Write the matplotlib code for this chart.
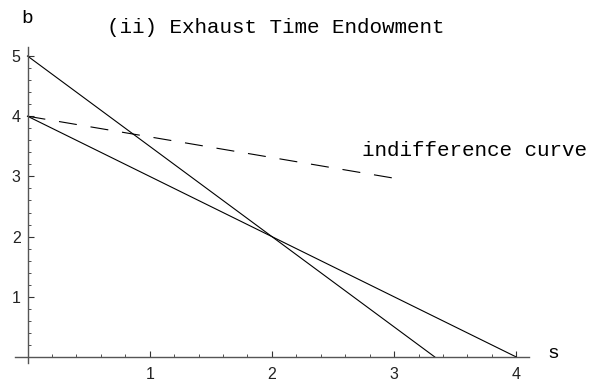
import matplotlib
matplotlib.use("Agg")
import matplotlib.pyplot as plt
from matplotlib.ticker import FixedLocator

plt.rcParams["lines.scale_dashes"] = False

# budget line with 5 units of b, crossing s at 10/3
steep_s = [0, 10 / 3]
steep_b = [5, 0]
# budget line with 4 units of b, crossing s at 4
flat_s = [0, 4]
flat_b = [4, 0]
# indifference curve (dashed)
indiff_s = [0, 3]
indiff_b = [4, 2.97]

x_ticks = [1, 2, 3, 4]
y_ticks = [1, 2, 3, 4, 5]
x_minor = [i / 5 for i in range(1, 21) if i % 5]
y_minor = [i / 5 for i in range(1, 26) if i % 5]

MONO = "Liberation Mono"
SANS = "Liberation Sans"


def main() -> None:
    fig = plt.figure(figsize=(5.92, 3.84), dpi=100)
    ax = fig.add_axes([0, 0, 1, 1])

    # pixel mapping: origin at (27.5, 357), 122.2 px per s unit, 60.2 px per b unit
    ax.set_xlim(-27.5 / 122.2, (592 - 27.5) / 122.2)
    ax.set_ylim((357 - 384) / 60.2, 357 / 60.2)

    ax.plot(steep_s, steep_b, color="black", lw=0.8)
    ax.plot(flat_s, flat_b, color="black", lw=0.8)
    ax.plot(indiff_s, indiff_b, color="black", lw=0.8, dashes=(13, 10))

    for side in ("top", "right"):
        ax.spines[side].set_visible(False)
    ax.spines["left"].set_position(("data", 0))
    ax.spines["bottom"].set_position(("data", 0))
    ax.spines["left"].set_bounds(-0.1, 5.15)
    ax.spines["bottom"].set_bounds(-0.1, 4.1)
    for side in ("left", "bottom"):
        ax.spines[side].set_color("#555555")
        ax.spines[side].set_linewidth(1.0)

    ax.set_xticks(x_ticks)
    ax.set_yticks(y_ticks)
    ax.xaxis.set_minor_locator(FixedLocator(x_minor))
    ax.yaxis.set_minor_locator(FixedLocator(y_minor))
    ax.tick_params(which="major", direction="in", length=4, width=0.8, color="#333333")
    ax.tick_params(which="minor", direction="in", length=2.5, width=0.6, color="#333333")
    ax.tick_params(axis="x", which="major", pad=7)
    ax.tick_params(axis="y", which="major", pad=5)
    for label in ax.get_xticklabels() + ax.get_yticklabels():
        label.set_fontfamily(SANS)
        label.set_fontsize(11.5)
        label.set_color("#222222")

    ax.text(0, 5.63, "b", family=MONO, fontsize=14, ha="center", va="center")
    ax.text(4.3, 0.05, "s", family=MONO, fontsize=14, ha="center", va="center")
    ax.text(2.03, 5.48, "(ii) Exhaust Time Endowment", family=MONO, fontsize=15,
            ha="center", va="center")
    ax.text(2.74, 3.43, "indifference curve", family=MONO, fontsize=15,
            ha="left", va="center")

    fig.savefig("out.png", dpi=100)


if __name__ == "__main__":
    main()
